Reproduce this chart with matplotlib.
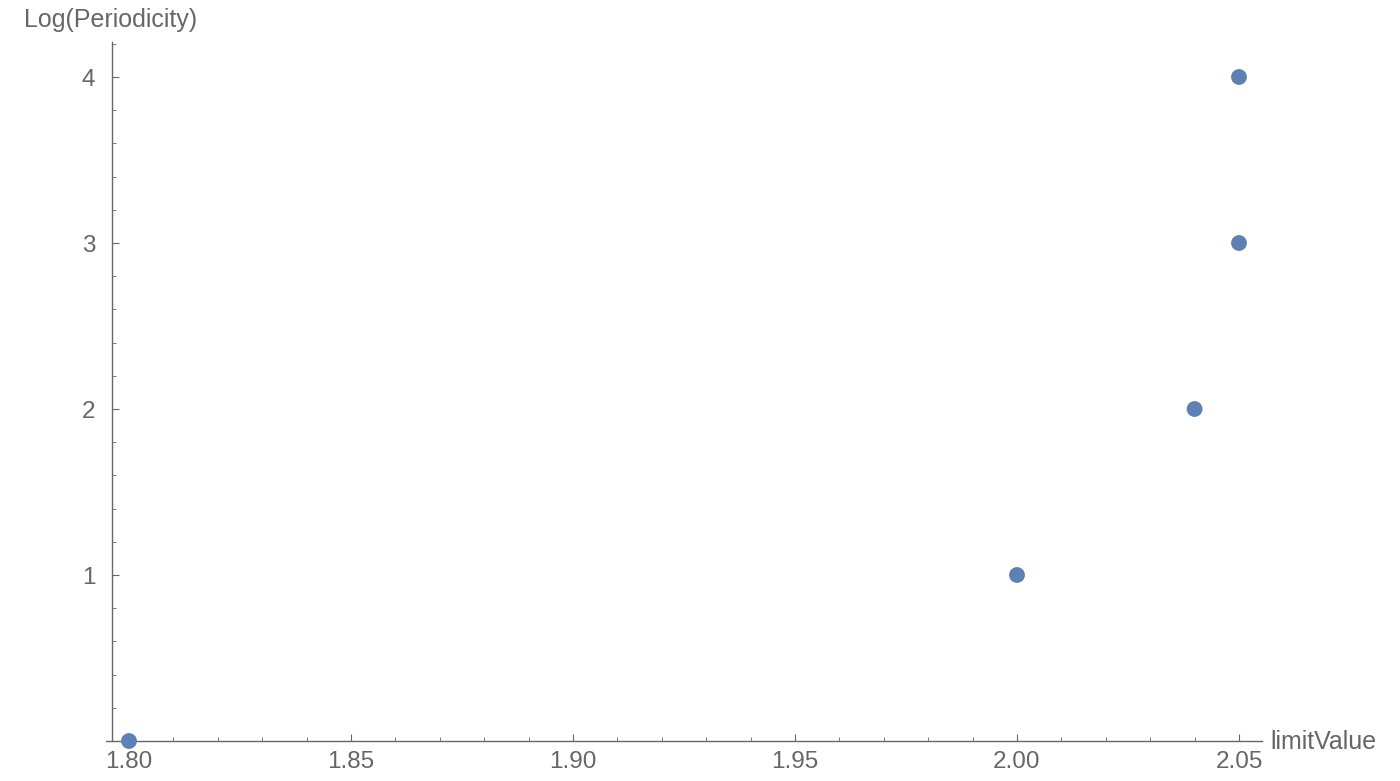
import numpy as np
import matplotlib.pyplot as plt

# data
limit_value = [1.80, 2.00, 2.04, 2.05, 2.05]
log_periodicity = [0, 1, 2, 3, 4]

x_ticks = [1.80, 1.85, 1.90, 1.95, 2.00, 2.05]
x_ticklabels = ["1.80", "1.85", "1.90", "1.95", "2.00", "2.05"]
y_ticks = [1, 2, 3, 4]

plt.rcParams['font.family'] = ['Liberation Sans', 'DejaVu Sans']
grey = "#666666"

W, H = 1400, 781
fig = plt.figure(figsize=(W / 100, H / 100), dpi=100)
# axes box in pixels: left 106, right 1262, bottom 741, top 42
ax = fig.add_axes([106 / W, (H - 741) / H, (1262 - 106) / W, (741 - 42) / H])

px_per_x = 222 / 0.05
x0 = 1.80 - (129 - 106) / px_per_x
x1 = 1.80 + (1262 - 129) / px_per_x
yaxis_pos = 1.80 - (129 - 112) / px_per_x
ax.set_xlim(x0, x1)
ax.set_ylim(0, 4 * (741 - 42) / (741 - 77))

ax.scatter(limit_value, log_periodicity, s=130, color="#5E81B5", zorder=3,
           clip_on=False, edgecolors="none")

for side in ["top", "right"]:
    ax.spines[side].set_visible(False)
ax.spines["left"].set_position(("data", yaxis_pos))
ax.spines["bottom"].set_position(("data", 0))
for side in ["left", "bottom"]:
    ax.spines[side].set_color(grey)
    ax.spines[side].set_linewidth(1.0)

ax.set_xticks(x_ticks)
ax.set_xticklabels(x_ticklabels)
ax.set_xticks(np.arange(1.80, 2.0551, 0.01), minor=True)
ax.set_yticks(y_ticks)
ax.set_yticks(np.arange(0.2, 4.21, 0.2), minor=True)

ax.tick_params(axis="both", which="major", direction="in", length=5, width=0.8,
               color=grey, labelcolor=grey, labelsize=17.5)
ax.tick_params(axis="both", which="minor", direction="in", length=3, width=0.6,
               color=grey)
ax.tick_params(axis="x", pad=7)
ax.tick_params(axis="y", pad=12)

fig.text(1270 / W, 1 - 742 / H, "limitValue", fontsize=18, color=grey,
         ha="left", va="center")
fig.text(111 / W, 1 - 20 / H, "Log(Periodicity)", fontsize=18, color=grey,
         ha="center", va="center")

fig.savefig("out.png", dpi=100)
